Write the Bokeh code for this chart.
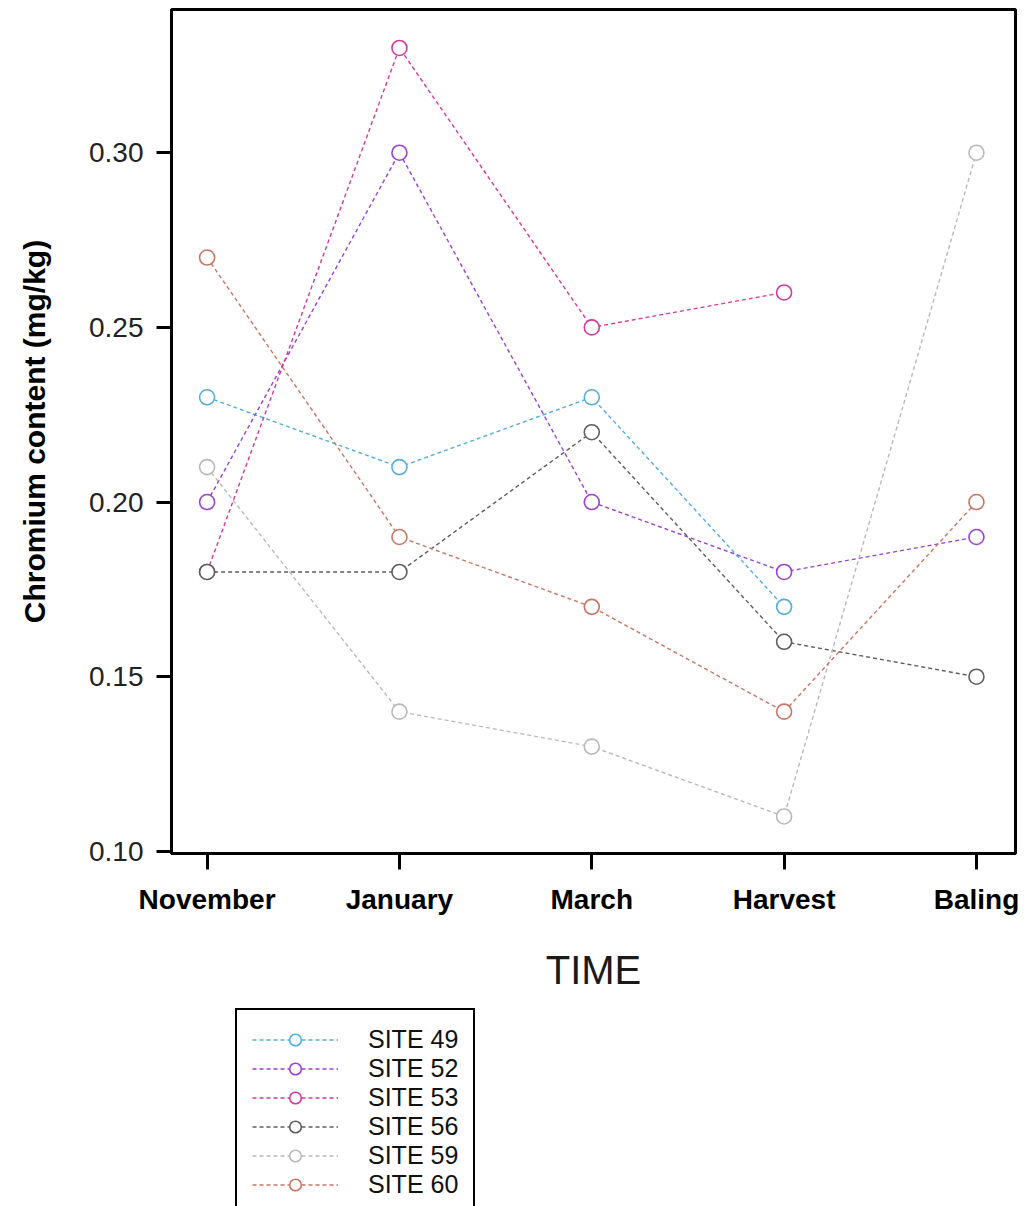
import math
from bokeh.plotting import figure
from bokeh.layouts import column
from bokeh.models import Range1d, FixedTicker, PrintfTickFormatter, Legend, LegendItem
from bokeh.embed import file_html
from bokeh.resources import INLINE

nan = float("nan")

# ---- data ----
periods = ["November", "January", "March", "Harvest", "Baling"]
period_index = [0, 1, 2, 3, 4]

site_names = ["SITE 49", "SITE 52", "SITE 53", "SITE 56", "SITE 59", "SITE 60"]
site_49 = [0.23, 0.21, 0.23, 0.17, nan]
site_52 = [0.20, 0.30, 0.20, 0.18, 0.19]
site_53 = [0.18, 0.33, 0.25, 0.26, nan]
site_56 = [0.18, 0.18, 0.22, 0.16, 0.15]
site_59 = [0.21, 0.14, 0.13, 0.11, 0.30]
site_60 = [0.27, 0.19, 0.17, 0.14, 0.20]

y_ticks = [0.10, 0.15, 0.20, 0.25, 0.30]

series = [site_49, site_52, site_53, site_56, site_59, site_60]
colors = ["#52aede", "#9a42d2", "#d4399c", "#5e5e5e", "#b9b9b9", "#c97664"]

FONT = "Liberation Sans"
LINE_STYLE = dict(line_width=1.4, line_dash="4 3")
MARK_STYLE = dict(marker="circle", size=15, line_width=1.6, fill_color="white")

p = figure(width=1027, height=1000,
           x_range=Range1d(-0.185, 4.203), y_range=Range1d(0.0994, 0.341),
           output_backend="svg", toolbar_location=None,
           min_border_left=171, min_border_right=12,
           min_border_top=9, min_border_bottom=147)
p.xgrid.visible = False
p.ygrid.visible = False
p.outline_line_color = "black"
p.outline_line_width = 3
p.background_fill_color = "white"
p.border_fill_color = "white"

# x axis
xa = p.xaxis[0]
xa.ticker = FixedTicker(ticks=period_index)
xa.major_label_overrides = {i: lab for i, lab in zip(period_index, periods)}
xa.major_label_text_font = FONT
xa.major_label_text_font_style = "bold"
xa.major_label_text_font_size = "28px"
xa.major_label_text_color = "black"
xa.major_label_standoff = 14
xa.major_tick_out = 16
xa.major_tick_in = 0
xa.minor_tick_out = 0
xa.minor_tick_in = 0
xa.major_tick_line_width = 3
xa.axis_line_width = 3
xa.axis_label = "TIME"
xa.axis_label_text_font = FONT
xa.axis_label_text_font_style = "normal"
xa.axis_label_text_font_size = "40px"
xa.axis_label_text_color = "#1a1a1a"
xa.axis_label_standoff = 30

# y axis
ya = p.yaxis[0]
ya.ticker = FixedTicker(ticks=y_ticks)
ya.formatter = PrintfTickFormatter(format="%.2f")
ya.major_label_text_font = FONT
ya.major_label_text_font_size = "28px"
ya.major_label_text_color = "#222222"
ya.major_label_standoff = 13
ya.major_tick_out = 15
ya.major_tick_in = 0
ya.minor_tick_out = 0
ya.minor_tick_in = 0
ya.major_tick_line_width = 3
ya.axis_line_width = 3
ya.axis_label = "Chromium content (mg/kg)"
ya.axis_label_text_font = FONT
ya.axis_label_text_font_style = "bold"
ya.axis_label_text_font_size = "30px"
ya.axis_label_text_color = "black"
ya.axis_label_standoff = 35

for vals, col in zip(series, colors):
    p.line(period_index, vals, line_color=col, **LINE_STYLE)
    p.scatter(period_index, vals, line_color=col, **MARK_STYLE)

# ---- legend panel (separate figure under the chart; its ranges keep the
# series themselves out of view so only the legend shows) ----
lp = figure(width=1027, height=206, x_range=Range1d(10, 11), y_range=Range1d(10, 11),
            output_backend="svg", toolbar_location=None,
            x_axis_type=None, y_axis_type=None,
            min_border_left=0, min_border_right=0, min_border_top=0, min_border_bottom=0)
lp.xgrid.visible = False
lp.ygrid.visible = False
lp.outline_line_color = None
lp.background_fill_color = "white"
lp.border_fill_color = "white"

items = []
for name, vals, col in zip(site_names, series, colors):
    ln = lp.line(period_index, vals, line_color=col, **LINE_STYLE)
    sc = lp.scatter(period_index, vals, line_color=col, **MARK_STYLE)
    items.append(LegendItem(label=name, renderers=[ln, sc]))

legend = Legend(items=items, location=(64, -10),
                label_text_font=FONT, label_text_font_size="25px",
                label_text_color="#111111",
                glyph_width=86, glyph_height=29, label_height=29,
                label_standoff=30, padding=15, spacing=0, margin=0,
                border_line_color="black", border_line_width=2, border_line_alpha=1.0,
                background_fill_color="white", background_fill_alpha=1.0)
lp.add_layout(legend)

layout = column(p, lp, spacing=0)
open("out.html", "w").write(file_html(layout, INLINE))
